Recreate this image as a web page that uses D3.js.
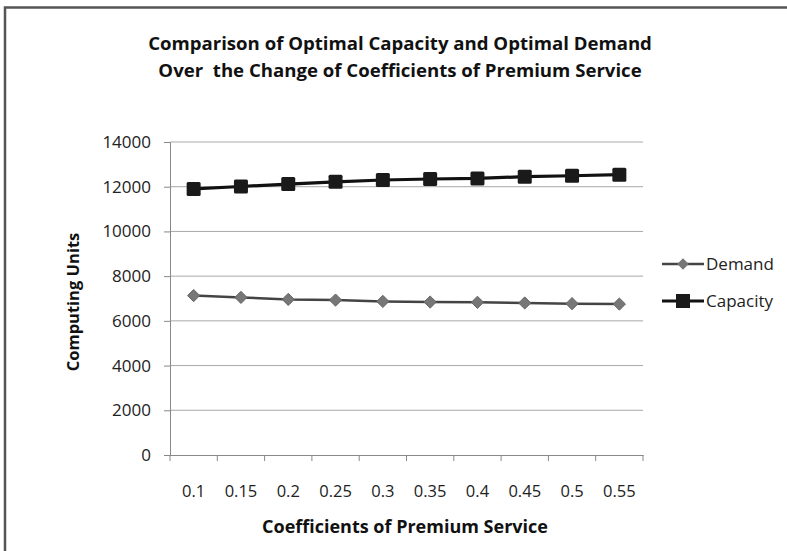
<!DOCTYPE html>
<html><head><meta charset="utf-8">
<script src="https://cdn.jsdelivr.net/npm/d3@7"></script>
<style>body{margin:0;background:#fff}svg{display:block}text{font-family:"Open Sans",Lato,sans-serif}</style>
</head><body>
<script>
const categories = ["0.1","0.15","0.2","0.25","0.3","0.35","0.4","0.45","0.5","0.55"];
const demand   = [7130,7050,6960,6930,6870,6840,6830,6800,6770,6750];
const capacity = [11900,12010,12120,12220,12300,12345,12370,12450,12490,12540];
const yTicks = [0,2000,4000,6000,8000,10000,12000,14000];
const titleLines = ["Comparison of Optimal Capacity and Optimal Demand","Over  the Change of Coefficients of Premium Service"];

const W=787,H=551;
const svg=d3.select("body").append("svg").attr("width",W).attr("height",H);
svg.append("rect").attr("x",5).attr("y",7.5).attr("width",W+10).attr("height",H+10)
  .attr("fill","#fff").attr("stroke","#555").attr("stroke-width",2.5);

const L=170,R=643,T=142,B=455;
const x=d3.scaleBand().domain(categories).range([L,R]);
const y=d3.scaleLinear().domain([0,14000]).range([B,T]);

// gridlines
svg.append("g").selectAll("line").data(yTicks.filter(d=>d>0)).join("line")
  .attr("x1",L).attr("x2",R).attr("y1",d=>y(d)).attr("y2",d=>y(d))
  .attr("stroke","#a8a8a8").attr("stroke-width",1);

// y axis
const ya=svg.append("g").attr("transform",`translate(${L},0)`)
  .call(d3.axisLeft(y).tickValues(yTicks).tickSize(6).tickPadding(13).tickFormat(d3.format("d")));
ya.select(".domain").attr("stroke","#888");
ya.selectAll(".tick line").attr("stroke","#888");
ya.selectAll("text").attr("font-size",17).attr("fill","#222");

// x axis
const xa=svg.append("g").attr("transform",`translate(0,${B})`)
  .call(d3.axisBottom(x).tickSize(0).tickPadding(30));
xa.select(".domain").attr("stroke","#888");
xa.selectAll("text").attr("font-size",16.5).attr("fill","#222");
const bounds=categories.map(c=>x(c)).concat([R]);
svg.append("g").selectAll("line").data(bounds).join("line")
  .attr("x1",d=>d).attr("x2",d=>d).attr("y1",B).attr("y2",B+6).attr("stroke","#888");

const cx=c=>x(c)+x.bandwidth()/2;
const line=d3.line().x((d,i)=>cx(categories[i])).y(d=>y(d));

// demand
svg.append("path").datum(demand).attr("d",line).attr("fill","none").attr("stroke","#444").attr("stroke-width",2.5);
svg.append("g").selectAll("path").data(demand).join("path")
  .attr("d",d3.symbol(d3.symbolDiamond2,95))
  .attr("transform",(d,i)=>`translate(${cx(categories[i])},${y(d)})`)
  .attr("fill","#777").attr("stroke","#666").attr("stroke-width",1);

// capacity
svg.append("path").datum(capacity).attr("d",line).attr("fill","none").attr("stroke","#111").attr("stroke-width",3.2);
svg.append("g").selectAll("rect").data(capacity).join("rect")
  .attr("x",(d,i)=>cx(categories[i])-7).attr("y",d=>y(d)-7).attr("width",14).attr("height",14)
  .attr("rx",1.5).attr("fill","#1a1a1a");

// legend
const lg=svg.append("g");
[[ "Demand",264,"d"],["Capacity",301,"c"]].forEach(([lab,ly,t])=>{
  lg.append("line").attr("x1",662).attr("x2",704).attr("y1",ly).attr("y2",ly)
    .attr("stroke",t=="d"?"#444":"#111").attr("stroke-width",t=="d"?2.5:3);
  if(t=="d") lg.append("path").attr("d",d3.symbol(d3.symbolDiamond2,85)()).attr("transform",`translate(683,${ly})`).attr("fill","#777");
  else lg.append("rect").attr("x",676).attr("y",ly-7).attr("width",14).attr("height",14).attr("fill","#1a1a1a");
  lg.append("text").attr("x",706).attr("y",ly).attr("dy","0.35em").attr("font-size",17).attr("fill","#222").text(lab);
});

// titles
svg.append("g").selectAll("text").data(titleLines).join("text")
  .attr("x",400).attr("y",(d,i)=>50+i*27).attr("text-anchor","middle")
  .attr("font-size",18.6).attr("font-weight","bold").attr("fill","#111").style("white-space","pre").text(d=>d);
svg.append("text").attr("x",405).attr("y",533).attr("text-anchor","middle")
  .attr("font-size",18).attr("font-weight","bold").attr("fill","#111").text("Coefficients of Premium Service");
svg.append("text").attr("transform","translate(79,302) rotate(-90)").attr("text-anchor","middle")
  .attr("font-size",16.5).attr("font-weight","bold").attr("fill","#111").text("Computing Units");
</script>
</body></html>
